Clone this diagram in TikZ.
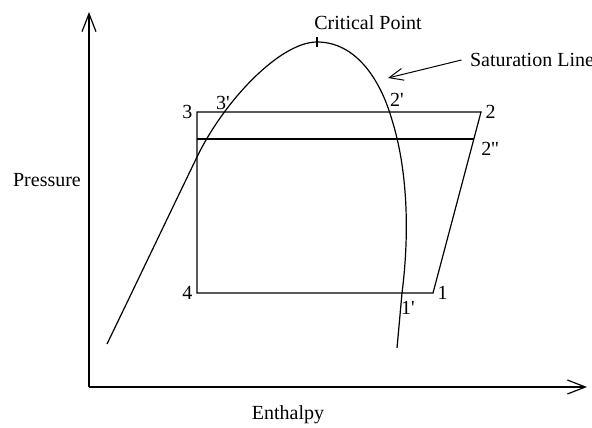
\documentclass[tikz,border=0pt]{standalone}
\usepackage{fontspec}
\setmainfont{Liberation Serif}
\usetikzlibrary{arrows.meta, positioning}

\begin{document}
\begin{tikzpicture}[x=0.5pt, y=-0.5pt, line width=0.6pt, font=\fontsize{10}{12}\selectfont,
    lbl/.style={inner sep=0pt},
    axis/.style={-{Straight Barb[length=9pt, width=7pt]}}]
        \useasboundingbox (0,0) rectangle (592,427);

        % axes
        \coordinate (origin) at (89,387);
        \coordinate (ytip) at (89,12);
        \coordinate (xtip) at (587,387);
        \draw[axis] (origin) -- (ytip);
        \draw[axis] (origin) -- (xtip);
        \node[lbl] (pres) at (47,180) {Pressure};
        \node[lbl] (enth) at (288,415) {Enthalpy};

        % saturation curve
        \coordinate (crit) at (317,42);
        \draw (107,344) .. controls (137,282) and (167,219) .. (197,157)
            .. controls (224,101) and (280,42) .. (crit)
            .. controls (355,42) and (380,78) .. (392,120)
            .. controls (407,168) and (410,230) .. (402,293) -- (397,348);
        \draw ([yshift=-2.5pt]crit) -- ([yshift=2.5pt]crit);
        \node[lbl] (critlbl) at (368,23) {Critical Point};

        % cycle
        \coordinate (p3) at (197,112);
        \coordinate (p2) at (481,112);
        \coordinate (p1) at (433,293);
        \coordinate (p4) at (197,293);
        \coordinate (p3a) at (197,139);
        \coordinate (p2b) at (474,139);
        \draw (p3) -- (p2) -- (p1) -- (p4) -- cycle;
        \draw (p3a) -- (p2b);

        \node[lbl, left=2pt of p3] (l3) {3};
        \node[lbl] (l3p) at (223,103) {3\textquotesingle};
        \node[lbl] (l2p) at (397,100) {2\textquotesingle};
        \node[lbl, right=2pt of p2] (l2) {2};
        \node[lbl] (l2b) at (490,149) {2\textquotesingle\textquotesingle};
        \node[lbl, left=2pt of p4] (l4) {4};
        \node[lbl, right=2pt of p1] (l1) {1};
        \node[lbl] (l1p) at (408,308) {1\textquotesingle};

        % saturation line label
        \node[lbl] (sat) at (532,60) {Saturation Line};
        \coordinate (sattip) at (388,78);
        \draw[-{Straight Barb[length=7pt, width=6pt]}, line width=0.5pt] ([xshift=-4pt]sat.west) -- (sattip);
    \end{tikzpicture}
\end{document}
